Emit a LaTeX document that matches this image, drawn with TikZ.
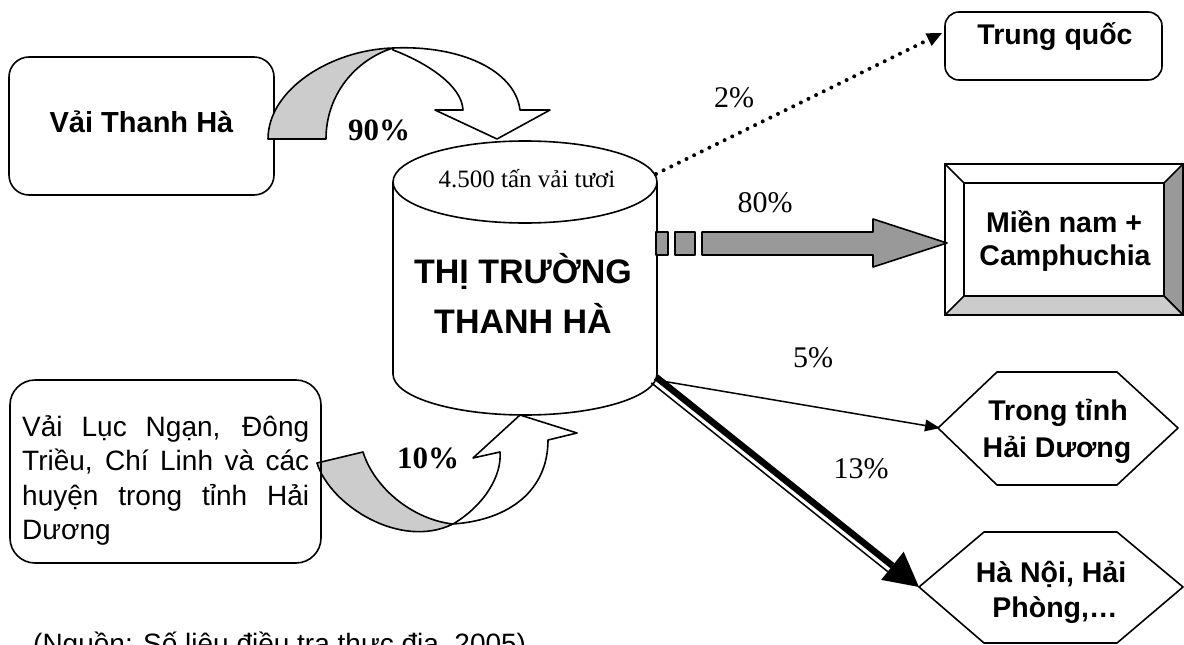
\documentclass[tikz,border=0pt]{standalone}
\usepackage{fontspec}
\setmainfont{Liberation Serif}
\newfontfamily\arial{Liberation Sans}
\usetikzlibrary{arrows.meta,calc}
\definecolor{lg}{HTML}{CCCCCC}
\definecolor{dg}{HTML}{999999}
\tikzset{
  boxn/.style={draw, line width=1.6pt, inner sep=0pt, outer sep=0pt},
  ol/.style={draw, line width=1.6pt, line join=round},
  lbl/.style={anchor=base, inner sep=0pt, font=\arial\bfseries\fontsize{28.5}{30}\selectfont},
  pct/.style={anchor=base, inner sep=0pt, font=\fontsize{30}{30}\selectfont},
  bpct/.style={anchor=base, inner sep=0pt, font=\bfseries\fontsize{31}{31}\selectfont},
  txt/.style={anchor=base west, inner sep=0pt, font=\arial\fontsize{28}{30}\selectfont},
}
\begin{document}
\begin{tikzpicture}[x=1pt,y=-1pt]
\useasboundingbox (0,0) rectangle (1184,645);

% ---------- Vai Thanh Ha box
\node[boxn, rounded corners=20pt, minimum width=265pt, minimum height=138pt] (vth) at (141.5,126) {};
\node[lbl, font=\arial\bfseries\fontsize{29}{30}\selectfont] (vthT) at (141.5,132) {Vải Thanh Hà};

% ---------- 90% curved arrow
\draw[ol, fill=lg] (268,139) .. controls (268,90) and (330,50) .. (393,48)
   .. controls (355,60) and (326,95) .. (326,139) -- cycle;
\draw[ol, fill=white] (393,48) .. controls (460,45) and (515,70) .. (520,110)
   -- (550,110) -- (497,139) -- (435,110) -- (463,110)
   .. controls (462,85) and (425,62) .. (393,50) -- cycle;
\node[bpct] (p90) at (379,140) {90\%};

% ---------- cylinder
\draw[ol, fill=white] (393,182) -- (393,374)
   arc[start angle=180, end angle=360, x radius=132pt, y radius=41pt] -- (657,182);
\draw[ol, fill=white] (525,182) ellipse [x radius=132pt, y radius=41pt];
\coordinate (cylTR) at (656,174);
\coordinate (s5) at (656,380);
\coordinate (s13) at (656,377);
\node[pct, font=\fontsize{25}{25}\selectfont] (cap) at (527,187) {4.500 tấn vải tươi};
\node[lbl, font=\arial\bfseries\fontsize{34}{34}\selectfont] (t1) at (523,283) {THỊ TRƯỜNG};
\node[lbl, font=\arial\bfseries\fontsize{34}{34}\selectfont] (t2) at (523,333) {THANH HÀ};

% ---------- 10% curved arrow
\draw[ol, fill=lg] (317,463) .. controls (330,505) and (400,550) .. (453,524)
   .. controls (415,520) and (375,490) .. (363,452) -- cycle;
\draw[ol, fill=white] (453,524) .. controls (485,505) and (502,475) .. (500,452)
   -- (473,458) -- (520,415) -- (577,433) -- (548,440)
   .. controls (548,490) and (510,520) .. (453,524) -- cycle;
\node[bpct] (p10) at (428,468) {10\%};

% ---------- Vai Luc Ngan box
\node[boxn, rounded corners=25pt, minimum width=311pt, minimum height=183pt] (vln) at (165.5,471.5) {};
\node[txt] (l1) at (22,436) {\makebox[287pt][s]{Vải Lục Ngạn, Đông}};
\node[txt] (l2) at (22,470.5) {\makebox[287pt][s]{Triều, Chí Linh và các}};
\node[txt] (l3) at (22,505) {\makebox[287pt][s]{huyện trong tỉnh Hải}};
\node[txt] (l4) at (22,539.5) {Dương};

% ---------- source caption (cut by the page edge, as in the original)
\node[txt] (src) at (33,653) {(Nguồn: Số liệu điều tra thực địa, 2005)};

% ---------- Trung quoc
\node[boxn, rounded corners=14pt, minimum width=217pt, minimum height=68pt] (tq) at (1053.5,46) {};
\node[lbl] (tqT) at (1055,45) {Trung quốc};
\coordinate (tqA) at (942,33);
\draw[line width=4pt, line cap=round, dash pattern=on 0pt off 8.5pt,
      -{Triangle[length=15pt,width=14pt,line width=0pt]}] (cylTR) -- (tqA);
\node[pct] (p2) at (734,107) {2\%};

% ---------- Mien nam + Camphuchia (bevel box)
\node[boxn, minimum width=238pt, minimum height=151pt] (mn) at (1064,239.5) {};
\draw[ol, fill=dg] (1183,164) -- (1164,183) -- (1164,296) -- (1183,315) -- cycle;
\draw[ol, fill=lg] (945,315) -- (964,296) -- (1164,296) -- (1183,315) -- cycle;
\draw[ol] (964,183) rectangle (1164,296);
\draw[ol] (945,164) -- (964,183);
\node[lbl] (mnT1) at (1064,232) {Miền nam +};
\node[lbl] (mnT2) at (1065,265) {Camphuchia};

% ---------- 80% block arrow
\draw[ol, fill=dg] (656,232) rectangle (668,255);
\draw[ol, fill=dg] (675,232) rectangle (695,255);
\draw[ol, fill=dg] (702,232) -- (873,232) -- (873,219) -- (947,243) -- (873,267)
   -- (873,255) -- (702,255) -- cycle;
\node[pct] (p80) at (765,212) {80\%};

% ---------- Trong tinh Hai Duong (hexagon)
\draw[ol] (938,428) -- (997,372) -- (1117,372) -- (1178,428) -- (1117,485) -- (997,485) -- cycle;
\coordinate (h1W) at (940,428);
\node[lbl] (h1T1) at (1058,420) {Trong tỉnh};
\node[lbl] (h1T2) at (1057,457) {Hải Dương};
\draw[line width=1.5pt, -{Triangle[length=15pt,width=12pt,line width=0pt]}] (s5) -- (h1W);
\node[pct] (p5) at (813,367) {5\%};

% ---------- Ha Noi, Hai Phong (hexagon)
\draw[ol] (919,587) -- (984,532) -- (1117,532) -- (1183,587) -- (1117,643) -- (984,643) -- cycle;
\coordinate (h2W) at (919,587);
\node[lbl] (h2T1) at (1051,582) {Hà Nội, Hải};
\node[lbl] (h2T2) at (1055,617) {Phòng,…};
\draw[line width=6.5pt, -{Triangle[length=34pt,width=36pt,line width=0pt]}] (s13) -- (h2W);
\coordinate (b13) at ($(h2W)!34pt!(s13)$);
\draw[line width=1.5pt] ($(s13)!7.5pt!-90:(h2W)$) -- ($(b13)!7.5pt!90:(s13)$);
\node[pct] (p13) at (861,478) {13\%};
\end{tikzpicture}
\end{document}
